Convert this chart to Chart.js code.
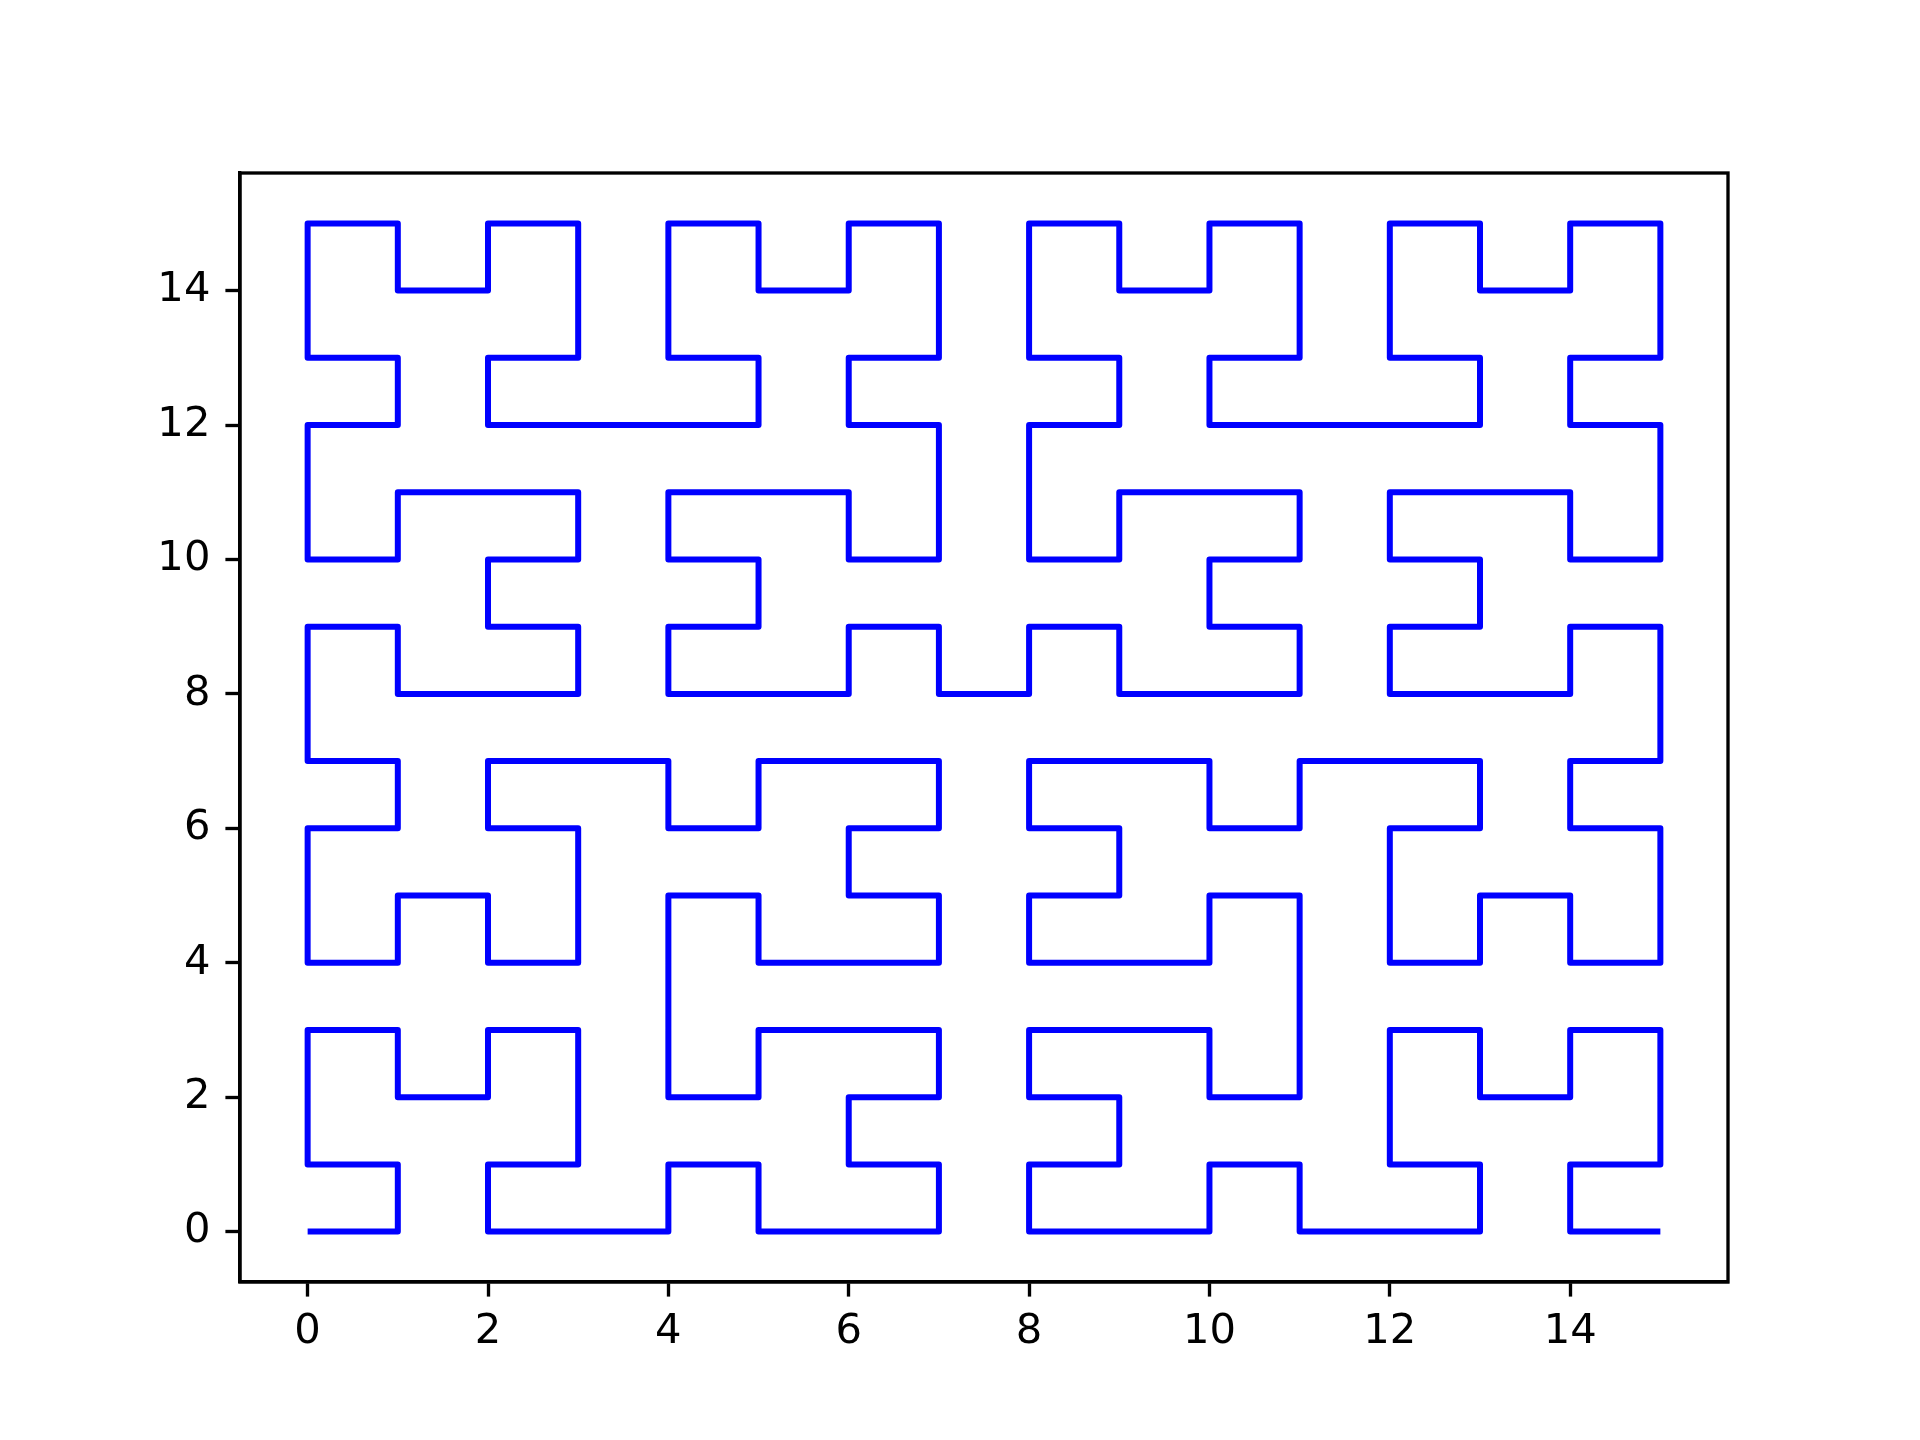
<!DOCTYPE html>
<html>
<head>
<meta charset="utf-8">
<script src="https://cdn.jsdelivr.net/npm/chart.js@4"></script>
<style>
html,body{margin:0;padding:0;background:#fff;}
canvas{display:block;}
</style>
</head>
<body>
<canvas id="c" width="1920" height="1440"></canvas>
<script>
const xValues = [
0,1,1,0,0,0,1,1,2,2,3,3,3,2,2,3,
4,4,5,5,6,7,7,6,6,7,7,6,5,5,4,4,
4,4,5,5,6,7,7,6,6,7,7,6,5,5,4,4,
3,2,2,3,3,3,2,2,1,1,0,0,0,1,1,0,
0,0,1,1,2,3,3,2,2,3,3,2,1,1,0,0,
0,1,1,0,0,0,1,1,2,2,3,3,3,2,2,3,
4,5,5,4,4,4,5,5,6,6,7,7,7,6,6,7,
7,7,6,6,5,4,4,5,5,4,4,5,6,6,7,7,
8,8,9,9,10,11,11,10,10,11,11,10,9,9,8,8,
8,9,9,8,8,8,9,9,10,10,11,11,11,10,10,11,
12,13,13,12,12,12,13,13,14,14,15,15,15,14,14,15,
15,15,14,14,13,12,12,13,13,12,12,13,14,14,15,15,
15,14,14,15,15,15,14,14,13,13,12,12,12,13,13,12,
11,11,10,10,9,8,8,9,9,8,8,9,10,10,11,11,
11,11,10,10,9,8,8,9,9,8,8,9,10,10,11,11,
12,13,13,12,12,12,13,13,14,14,15,15,15,14,14,15
];
const yValues = [
0,0,1,1,2,3,3,2,2,3,3,2,1,1,0,0,
0,1,1,0,0,0,1,1,2,2,3,3,3,2,2,3,
4,5,5,4,4,4,5,5,6,6,7,7,7,6,6,7,
7,7,6,6,5,4,4,5,5,4,4,5,6,6,7,7,
8,9,9,8,8,8,9,9,10,10,11,11,11,10,10,11,
12,12,13,13,14,15,15,14,14,15,15,14,13,13,12,12,
12,12,13,13,14,15,15,14,14,15,15,14,13,13,12,12,
11,10,10,11,11,11,10,10,9,9,8,8,8,9,9,8,
8,9,9,8,8,8,9,9,10,10,11,11,11,10,10,11,
12,12,13,13,14,15,15,14,14,15,15,14,13,13,12,12,
12,12,13,13,14,15,15,14,14,15,15,14,13,13,12,12,
11,10,10,11,11,11,10,10,9,9,8,8,8,9,9,8,
7,7,6,6,5,4,4,5,5,4,4,5,6,6,7,7,
7,6,6,7,7,7,6,6,5,5,4,4,4,5,5,4,
3,2,2,3,3,3,2,2,1,1,0,0,0,1,1,0,
0,0,1,1,2,3,3,2,2,3,3,2,1,1,0,0
];
const xTicks = [0,2,4,6,8,10,12,14];
const yTicks = [0,2,4,6,8,10,12,14];

const points = xValues.map((x,i)=>({x:x, y:yValues[i]}));

const frame = {
  id:'frame',
  afterDraw(chart){
    const a = chart.chartArea, ctx = chart.ctx;
    ctx.save();
    ctx.strokeStyle = '#000';
    ctx.lineWidth = 3.33;
    ctx.strokeRect(a.left, a.top, a.right-a.left, a.bottom-a.top);
    ctx.restore();
  }
};

const font = {family:'"DejaVu Sans"', size:41.7, lineHeight:1};

new Chart(document.getElementById('c'), {
  type:'scatter',
  data:{datasets:[{
    data:points,
    showLine:true,
    borderColor:'#0000ff',
    borderWidth:6,
    borderJoinStyle:'round',
    borderCapStyle:'butt',
    pointRadius:0,
    pointHoverRadius:0,
    fill:false,
    tension:0
  }]},
  options:{
    responsive:false,
    devicePixelRatio:1,
    animation:false,
    events:[],
    layout:{padding:{left:0, top:173, right:192, bottom:0}},
    plugins:{legend:{display:false}, tooltip:{enabled:false}},
    scales:{
      x:{
        type:'linear', min:-0.75, max:15.75,
        afterBuildTicks(s){ s.ticks = xTicks.map(v=>({value:v})); },
        afterFit(s){ s.height = 158; },
        grid:{display:true, drawOnChartArea:false, drawTicks:true, tickLength:14.6, tickWidth:3.33, tickColor:'#000'},
        border:{display:true, color:'#000', width:3.33},
        ticks:{color:'#000', font:font, padding:14.5, maxRotation:0, autoSkip:false}
      },
      y:{
        type:'linear', min:-0.75, max:15.75,
        afterBuildTicks(s){ s.ticks = yTicks.map(v=>({value:v})); },
        afterFit(s){ s.width = 240; },
        grid:{display:true, drawOnChartArea:false, drawTicks:true, tickLength:14.6, tickWidth:3.33, tickColor:'#000'},
        border:{display:true, color:'#000', width:3.33},
        ticks:{color:'#000', font:font, padding:15, autoSkip:false}
      }
    }
  },
  plugins:[frame]
});
</script>
</body>
</html>
